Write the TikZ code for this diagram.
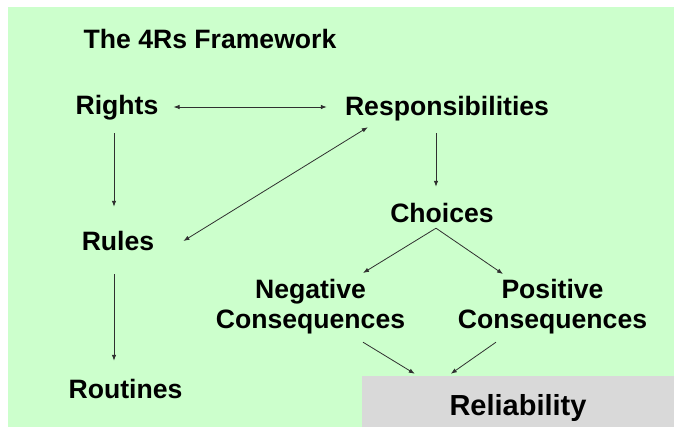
\documentclass[tikz,border=0pt]{standalone}
\usepackage{fontspec}
\setmainfont{Liberation Sans}
\usetikzlibrary{arrows.meta}
\definecolor{bggreen}{HTML}{CCFFCC}
\definecolor{relgrey}{HTML}{D9D9D9}
\definecolor{lnk}{HTML}{303030}
\begin{document}
\begin{tikzpicture}[x=1pt,y=-1pt,
  lbl/.style={inner sep=0, anchor=base, text height=20pt, text depth=6pt,
    font=\fontsize{26.6}{30}\selectfont\bfseries},
  two/.style={inner sep=0, anchor=north, align=center,
    font=\fontsize{26.6}{30}\selectfont\bfseries},
  relbox/.style={fill=relgrey, inner sep=0, minimum width=312pt, minimum height=51pt,
    text height=27pt, text depth=0pt, font=\fontsize{29}{34}\selectfont\bfseries},
  arr/.tip={Latex[length=6pt,width=4.5pt]},
  link/.style={draw=lnk, line width=0.8pt, -arr}]
\useasboundingbox (0,0) rectangle (674,430);
\fill[bggreen] (8,7) rectangle (674,427);
\node[lbl] (title) at (210,49) {The 4Rs Framework};
\node[lbl] (rights) at (117,115) {Rights};
\node[lbl] (resp) at (447,116) {Responsibilities};
\node[lbl] (rules) at (118,251) {Rules};
\node[lbl] (routines) at (125.5,398) {Routines};
\node[lbl] (choices) at (442,223) {Choices};
\node[two] (neg) at (310.5,279) {Negative\\Consequences};
\node[two] (pos) at (552.5,279) {Positive\\Consequences};
\node[relbox] (rel) at (518,401.5) {Reliability};
% left column
\draw[link, arr-arr]([shift={(15,-1)}]rights.east) -- ([shift={(-18,-2)}]resp.west);
\draw[link]([shift={(-3,12)}]rights.south) -- ([shift={(-4,-24)}]rules.north);
\draw[link]([shift={(-4,17)}]rules.south) -- ([shift={(-11.5,-17)}]routines.north);
\draw[link, arr-arr]([shift={(29,-3)}]rules.east) -- ([shift={(23,5)}]resp.south west);
% right side
\draw[link]([shift={(-11,11)}]resp.south) -- ([shift={(-6,-16)}]choices.north);
\draw[link]([shift={(-6,-1)}]choices.south) -- ([shift={(52.5,-6)}]neg.north);
\draw[link]([shift={(-6,-1)}]choices.south) -- ([shift={(-49.5,-5)}]pos.north);
\draw[link]([shift={(52.5,8)}]neg.south) -- ([shift={(53,-2)}]rel.north west);
\draw[link]([shift={(-56.5,8)}]pos.south) -- ([shift={(89,-2)}]rel.north west);
\end{tikzpicture}
\end{document}
